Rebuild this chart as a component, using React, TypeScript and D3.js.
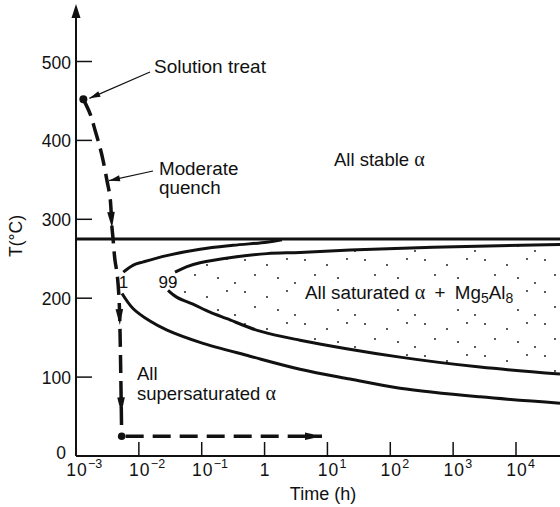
import React from 'react';
import * as d3 from 'd3';

const W = 560;
const H = 507;

// axis ticks
const xTickExps = [-2, -1, 0, 1, 2, 3, 4];
const xLabelExps = [-3, -2, -1, 0, 1, 2, 3, 4];
const yTicks = [100, 200, 300, 400, 500];
const yTickLabels = [0, 100, 200, 300, 400, 500];

// solvus temperature (°C)
const solvusT = 275;

// quench path: time (h), temperature (°C)
const quenchTime = [0.00131, 0.00167, 0.00201, 0.00241, 0.00269, 0.00311, 0.00348, 0.00374, 0.00388, 0.00417, 0.00449, 0.00483, 0.00501, 0.00533];
const quenchTemp = [452, 434, 413, 391, 375, 349, 328, 289, 276, 248, 232, 201, 160, 25];
const quenchArrowTemps = [289, 166, 54];
const holdTime = [0.00533, 8.2];
const holdTemp = [25, 25];

// 1% precipitation C-curve
const c1UpperTime = [0.00566, 0.00817, 0.01178, 0.0277, 0.094, 0.315, 1.08, 1.89];
const c1UpperTemp = [233, 242, 246, 254, 262, 267, 271, 274];
const c1LowerTime = [0.0054, 0.00807, 0.01503, 0.0281, 0.094, 0.586, 3.66, 22.9, 142.6, 2673, 50119];
const c1LowerTemp = [206, 187, 171, 159.5, 144, 126.5, 110, 97.5, 86, 75, 67];

// 99% precipitation C-curve
const c99UpperTime = [0.0376, 0.0583, 0.094, 0.315, 1.09, 3.66, 22.9, 478, 50119];
const c99UpperTemp = [233, 240, 245, 252, 256.5, 258, 261, 264.5, 268];
const c99LowerTime = [0.0291, 0.0405, 0.0726, 0.1355, 0.252, 0.845, 3.66, 142.6, 2673, 50119];
const c99LowerTemp = [210, 201, 192.4, 182.3, 174, 158.2, 146.8, 125.3, 112.7, 103.8];

const FONT = "'Liberation Sans', Arial, Helvetica, sans-serif";
const SERIF = "'Liberation Serif', 'DejaVu Serif', serif";

type P = [number, number];
const zip = (ts: number[], Ts: number[]): P[] => ts.map((t, i) => [t, Ts[i]] as P);

export default function App() {
  const x = d3.scaleLog().domain([1e-3, 1e4]).range([76, 516]);
  const y = d3.scaleLinear().domain([0, 500]).range([456, 61.5]);

  const line = d3
    .line<P>()
    .x((d) => x(d[0]))
    .y((d) => y(d[1]))
    .curve(d3.curveCatmullRom.alpha(0.5));

  const quench = zip(quenchTime, quenchTemp);
  const hold = zip(holdTime, holdTemp);
  const c1U = zip(c1UpperTime, c1UpperTemp);
  const c1L = zip(c1LowerTime, c1LowerTemp);
  const c99U = zip(c99UpperTime, c99UpperTemp);
  const c99L = zip(c99LowerTime, c99LowerTemp);

  const stippleRegion = line([...c99U.slice().reverse(), ...c99L]) + 'Z';

  // locate a point on the quench path at temperature T (interpolating in log time)
  const quenchAt = (T: number): [number, number] => {
    for (let i = 0; i < quench.length - 1; i++) {
      const [t0, T0] = quench[i];
      const [t1, T1] = quench[i + 1];
      if (T <= T0 && T >= T1) {
        const f = (T0 - T) / (T0 - T1);
        const lt = Math.log10(t0) + f * (Math.log10(t1) - Math.log10(t0));
        return [x(Math.pow(10, lt)), y(T)];
      }
    }
    return [x(quench[0][0]), y(quench[0][1])];
  };

  const arrowHead = (tip: [number, number], from: [number, number], L: number, w: number) => {
    const dx = tip[0] - from[0];
    const dy = tip[1] - from[1];
    const len = Math.hypot(dx, dy) || 1;
    const ux = dx / len;
    const uy = dy / len;
    const bx = tip[0] - ux * L;
    const by = tip[1] - uy * L;
    const nx = -uy;
    const ny = ux;
    return `M${tip[0]},${tip[1]}L${bx + nx * w},${by + ny * w}L${bx - nx * w},${by - ny * w}Z`;
  };

  const q0: [number, number] = [x(quench[0][0]), y(quench[0][1])];
  const qEnd: [number, number] = [x(hold[0][0]), y(hold[0][1])];
  const holdTip: [number, number] = [x(hold[1][0]), y(hold[1][1])];

  const modTip = quenchAt(349);

  return (
    <svg
      width={W}
      height={H}
      style={{ position: 'absolute', left: 0, top: 0, background: '#fff' }}
      fontFamily={FONT}
    >
      <defs>
        <pattern id="stip" width={60} height={32} patternUnits="userSpaceOnUse">
          <circle cx={5} cy={4} r={1} fill="#222" />
          <circle cx={27} cy={9} r={1} fill="#222" />
          <circle cx={47} cy={3} r={1} fill="#222" />
          <circle cx={15} cy={19} r={1} fill="#222" />
          <circle cx={38} cy={22} r={1} fill="#222" />
          <circle cx={55} cy={27} r={1} fill="#222" />
        </pattern>
      </defs>

      {/* stippled two-phase region */}
      <path d={stippleRegion} fill="url(#stip)" stroke="none" />
      <rect x={300} y={279} width={216} height={29} fill="#fff" />

      {/* axes */}
      <line x1={x(1e-3)} x2={W} y1={y(0)} y2={y(0)} stroke="#111" strokeWidth={2} />
      <line x1={x(1e-3)} x2={x(1e-3)} y1={y(0)} y2={12} stroke="#111" strokeWidth={2} />
      <path d={`M${x(1e-3)},4L${x(1e-3) - 4.5},18L${x(1e-3) + 4.5},18Z`} fill="#111" />

      {xTickExps.map((e) => (
        <line key={e} x1={x(Math.pow(10, e))} x2={x(Math.pow(10, e))} y1={y(0)} y2={y(0) - 14} stroke="#111" strokeWidth={1.5} />
      ))}
      {yTicks.map((v) => (
        <line key={v} x1={x(1e-3)} x2={x(1e-3) + 16} y1={y(v)} y2={y(v)} stroke="#111" strokeWidth={1.5} />
      ))}

      {yTickLabels.map((v) => (
        <text
          key={v}
          x={v === 0 ? 66 : 71}
          y={v === 0 ? y(v) + 3 : y(v) + 7}
          textAnchor="end"
          fontSize={17.5}
          fill="#111"
        >
          {v}
        </text>
      ))}

      {xLabelExps.map((e) => {
        const cx = x(Math.pow(10, e));
        if (e === 0) {
          return (
            <text key={e} x={cx} y={476} textAnchor="middle" fontSize={17.5} fill="#111">
              1
            </text>
          );
        }
        return (
          <g key={e}>
            <text x={cx + 1} y={476} textAnchor="middle" fontSize={17.5} fill="#111" letterSpacing={1}>
              10
            </text>
            <text x={cx + 12} y={468} fontSize={12.5} fill="#111">
              {e < 0 ? `\u2212${-e}` : `${e}`}
            </text>
          </g>
        );
      })}

      <text x={323} y={500} textAnchor="middle" fontSize={18} fill="#111">
        Time (h)
      </text>
      <text transform={`translate(22,236) rotate(-90)`} textAnchor="middle" fontSize={17.5} fill="#111">
        T(°C)
      </text>

      {/* solvus */}
      <line x1={x(1e-3)} x2={W} y1={y(solvusT)} y2={y(solvusT)} stroke="#111" strokeWidth={3} />

      {/* C-curves */}
      <path d={line(c1U) || ''} fill="none" stroke="#111" strokeWidth={3} />
      <path d={line(c1L) || ''} fill="none" stroke="#111" strokeWidth={3} />
      <path d={line(c99U) || ''} fill="none" stroke="#111" strokeWidth={3} />
      <path d={line(c99L) || ''} fill="none" stroke="#111" strokeWidth={3} />

      {/* quench path */}
      <path d={line(quench) || ''} fill="none" stroke="#111" strokeWidth={3.5} strokeDasharray="18 8" />
      {quenchArrowTemps.map((T) => (
        <path key={T} d={arrowHead(quenchAt(T), quenchAt(T + 12), 16, 3.8)} fill="#111" />
      ))}
      <path d={line(hold) || ''} fill="none" stroke="#111" strokeWidth={3.5} strokeDasharray="18 9" strokeDashoffset={-4} />
      <path d={arrowHead(holdTip, [holdTip[0] - 10, holdTip[1]], 17, 3.8)} fill="#111" />
      <circle cx={q0[0]} cy={q0[1]} r={4} fill="#111" />
      <circle cx={qEnd[0]} cy={qEnd[1]} r={3.8} fill="#111" />

      {/* annotations */}
      <line x1={150} y1={72} x2={q0[0] + 6} y2={q0[1] - 1} stroke="#111" strokeWidth={1.2} />
      <path d={arrowHead([q0[0] + 6, q0[1] - 1], [150, 72], 11, 3)} fill="#111" />
      <text x={154} y={73} fontSize={19} fill="#111">
        Solution treat
      </text>

      <line x1={153} y1={171} x2={modTip[0] + 2} y2={modTip[1]} stroke="#111" strokeWidth={1.2} />
      <path d={arrowHead([modTip[0] + 2, modTip[1]], [153, 171], 11, 3)} fill="#111" />
      <text x={159} y={175} fontSize={18.8} fill="#111">
        Moderate
      </text>
      <text x={159} y={194} fontSize={18.8} fill="#111">
        quench
      </text>

      <text x={334} y={166} fontSize={18.5} fill="#111">
        All stable <tspan fontFamily={SERIF} fontSize={20}>α</tspan>
      </text>

      <text x={305} y={299} fontSize={18.8} fill="#111">
        All saturated <tspan fontFamily={SERIF} fontSize={20}>α</tspan>{'\u2002+\u2002'}Mg
        <tspan fontSize={14} dy={4}>5</tspan>
        <tspan dy={-4}>Al</tspan>
        <tspan fontSize={14} dy={4}>8</tspan>
      </text>

      <text x={137} y={380} fontSize={18.5} fill="#111">
        All
      </text>
      <text x={137} y={400} fontSize={18.5} fill="#111">
        supersaturated <tspan fontFamily={SERIF} fontSize={20}>α</tspan>
      </text>

      <text x={123.5} y={288} textAnchor="middle" fontSize={17} fill="#111">
        1
      </text>
      <text x={168} y={288} textAnchor="middle" fontSize={17} fill="#111">
        99
      </text>
    </svg>
  );
}
